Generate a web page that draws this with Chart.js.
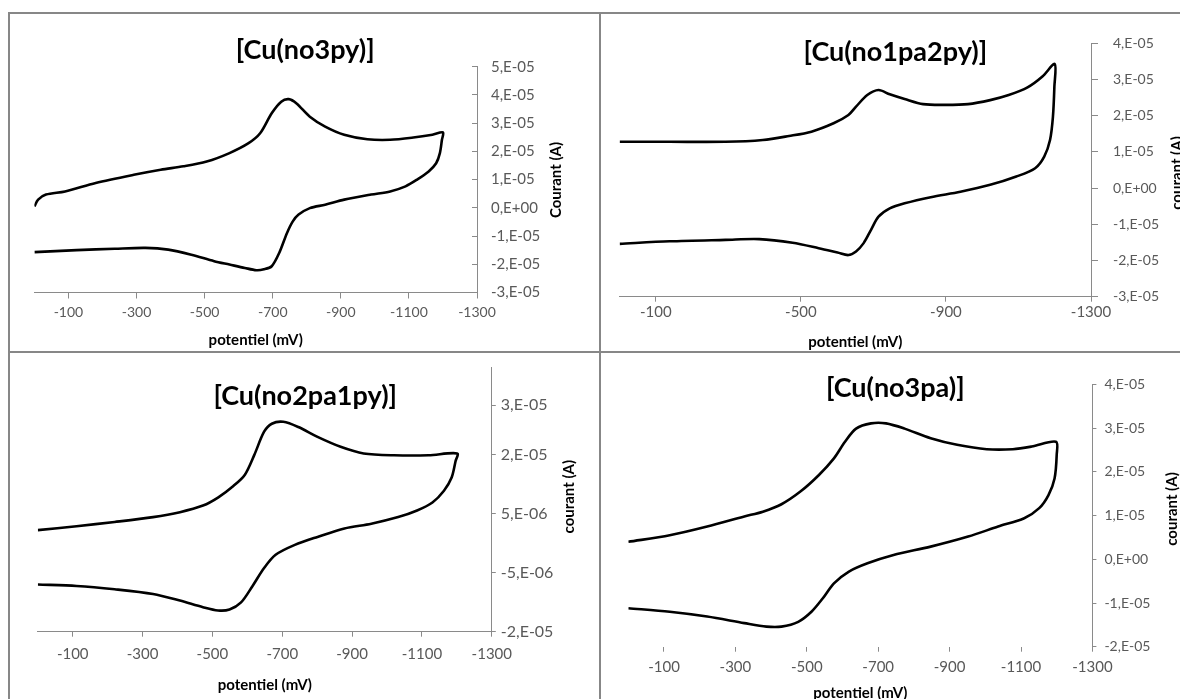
<!DOCTYPE html>
<html><head><meta charset="utf-8">
<script src="https://cdn.jsdelivr.net/npm/chart.js@4.4.1/dist/chart.umd.min.js"></script>
<style>
html,body{margin:0;padding:0;background:#fff;width:1180px;height:699px;overflow:hidden;}
.panel{position:absolute;}
.line{position:absolute;background:#878787;}
canvas{display:block;}
</style></head><body>
<div class="line" style="left:8px;top:12px;width:1172px;height:2px"></div>
<div class="line" style="left:8px;top:12px;width:2px;height:687px"></div>
<div class="line" style="left:599px;top:12px;width:2px;height:687px"></div>
<div class="line" style="left:8px;top:351px;width:1172px;height:2px"></div>
<div class="panel" style="left:10px;top:14px"><canvas id="c1" width="589" height="337"></canvas></div>
<div class="panel" style="left:601px;top:14px"><canvas id="c2" width="579" height="337"></canvas></div>
<div class="panel" style="left:10px;top:353px"><canvas id="c3" width="589" height="346"></canvas></div>
<div class="panel" style="left:601px;top:353px"><canvas id="c4" width="579" height="346"></canvas></div>
<script>
// ---- Titles ----
const titles = ["[Cu(no3py)]", "[Cu(no1pa2py)]", "[Cu(no2pa1py)]", "[Cu(no3pa)]"];
const xAxisTitle = "potentiel (mV)";
const yAxisTitles = ["Courant (A)", "courant (A)", "courant (A)", "courant (A)"];

// ---- Tick values / labels ----
const xTicksStep200 = [-1300, -1100, -900, -700, -500, -300, -100];
const xTicksStep400 = [-1300, -900, -500, -100];
const p1YTicks = [-3e-5, -2e-5, -1e-5, 0, 1e-5, 2e-5, 3e-5, 4e-5, 5e-5];
const p1YLabels = ["-3,E-05", "-2,E-05", "-1,E-05", "0,E+00", "1,E-05", "2,E-05", "3,E-05", "4,E-05", "5,E-05"];
const p2YTicks = [-3e-5, -2e-5, -1e-5, 0, 1e-5, 2e-5, 3e-5, 4e-5];
const p2YLabels = ["-3,E-05", "-2,E-05", "-1,E-05", "0,E+00", "1,E-05", "2,E-05", "3,E-05", "4,E-05"];
const p3YTicks = [-2e-5, -7.5e-6, 5e-6, 1.75e-5, 2.8e-5];
const p3YLabels = ["-2,E-05", "-5,E-06", "5,E-06", "2,E-05", "3,E-05"];
const p4YTicks = [-2e-5, -1e-5, 0, 1e-5, 2e-5, 3e-5, 4e-5];
const p4YLabels = ["-2,E-05", "-1,E-05", "0,E+00", "1,E-05", "2,E-05", "3,E-05", "4,E-05"];

// ---- Series: potential (mV) and current (A) ----
const p1Potential = [0,-11,-34,-90,-180,-292,-371,-438,-506,-573,-629,-663,-697,-725,-747,-770,-809,-854,-910,-978,-1045,-1113,-1169,-1200,-1197,-1191,-1180,-1158,-1124,-1090,-1045,-989,-910,-854,-809,-776,-759,-742,-719,-697,-674,-652,-618,-573,-528,-461,-393,-326,-236,-124,0];
const p1Current = [0.05e-5,0.29e-5,0.47e-5,0.58e-5,0.88e-5,1.17e-5,1.35e-5,1.47e-5,1.64e-5,1.94e-5,2.29e-5,2.64e-5,3.35e-5,3.76e-5,3.85e-5,3.70e-5,3.23e-5,2.88e-5,2.59e-5,2.43e-5,2.41e-5,2.49e-5,2.59e-5,2.67e-5,2.41e-5,1.94e-5,1.58e-5,1.29e-5,1.00e-5,0.76e-5,0.58e-5,0.47e-5,0.29e-5,0.11e-5,-0.01e-5,-0.24e-5,-0.48e-5,-0.89e-5,-1.60e-5,-2.07e-5,-2.18e-5,-2.21e-5,-2.13e-5,-2.01e-5,-1.89e-5,-1.66e-5,-1.48e-5,-1.42e-5,-1.45e-5,-1.50e-5,-1.57e-5];

const p2Potential = [0,-138,-292,-395,-467,-529,-590,-631,-652,-683,-714,-745,-786,-837,-899,-961,-1022,-1073,-1125,-1166,-1200,-1199,-1195,-1187,-1171,-1146,-1094,-1022,-940,-858,-786,-745,-714,-693,-673,-652,-631,-601,-549,-477,-385,-292,-138,0];
const p2Current = [1.28e-5,1.28e-5,1.28e-5,1.33e-5,1.44e-5,1.56e-5,1.79e-5,2.02e-5,2.25e-5,2.57e-5,2.71e-5,2.59e-5,2.46e-5,2.32e-5,2.30e-5,2.32e-5,2.43e-5,2.57e-5,2.78e-5,3.08e-5,3.43e-5,2.80e-5,1.97e-5,1.33e-5,0.87e-5,0.55e-5,0.32e-5,0.09e-5,-0.10e-5,-0.25e-5,-0.42e-5,-0.56e-5,-0.79e-5,-1.16e-5,-1.52e-5,-1.75e-5,-1.85e-5,-1.78e-5,-1.66e-5,-1.51e-5,-1.41e-5,-1.43e-5,-1.47e-5,-1.54e-5];

const p3Potential = [0,-111,-220,-330,-407,-473,-517,-560,-593,-620,-648,-670,-703,-746,-801,-867,-933,-1020,-1119,-1201,-1196,-1185,-1163,-1130,-1086,-1032,-955,-878,-801,-736,-681,-648,-615,-582,-549,-516,-473,-407,-330,-220,-111,0];
const p3Current = [0.154e-5,0.237e-5,0.327e-5,0.43e-5,0.535e-5,0.675e-5,0.85e-5,1.09e-5,1.33e-5,1.75e-5,2.24e-5,2.41e-5,2.45e-5,2.34e-5,2.13e-5,1.92e-5,1.78e-5,1.74e-5,1.74e-5,1.78e-5,1.61e-5,1.27e-5,0.99e-5,0.74e-5,0.57e-5,0.43e-5,0.29e-5,0.19e-5,0.01e-5,-0.16e-5,-0.37e-5,-0.65e-5,-1.03e-5,-1.38e-5,-1.53e-5,-1.55e-5,-1.48e-5,-1.34e-5,-1.20e-5,-1.10e-5,-1.03e-5,-1.00e-5];

const p4Potential = [0,-116,-221,-325,-377,-429,-482,-534,-576,-607,-638,-680,-722,-774,-847,-921,-1004,-1077,-1130,-1198,-1200,-1194,-1177,-1151,-1109,-1036,-952,-847,-743,-670,-618,-576,-545,-513,-476,-429,-387,-325,-221,-116,0];
const p4Current = [0.40e-5,0.55e-5,0.75e-5,0.98e-5,1.09e-5,1.26e-5,1.55e-5,1.93e-5,2.31e-5,2.69e-5,2.99e-5,3.11e-5,3.11e-5,2.99e-5,2.77e-5,2.62e-5,2.52e-5,2.52e-5,2.58e-5,2.69e-5,2.39e-5,1.85e-5,1.47e-5,1.17e-5,0.94e-5,0.75e-5,0.52e-5,0.29e-5,0.10e-5,-0.09e-5,-0.28e-5,-0.55e-5,-0.89e-5,-1.20e-5,-1.43e-5,-1.54e-5,-1.54e-5,-1.46e-5,-1.31e-5,-1.20e-5,-1.12e-5];

const AXIS_GRAY = '#8a8a8a';
const LABEL_GRAY = '#595959';

const panelText = {
  id: 'panelText',
  afterDraw(chart, args, o) {
    const ctx = chart.ctx;
    ctx.save();
    ctx.fillStyle = '#000';
    ctx.textAlign = 'center';
    ctx.textBaseline = 'middle';
    ctx.font = 'bold 27px Lato';
    ctx.fillText(o.title, o.titleX, o.titleY);
    ctx.font = 'bold 15px Lato';
    const ca = chart.chartArea;
    ctx.fillText(o.xTitle, (ca.left + ca.right) / 2, ca.bottom + o.xTitleDy);
    ctx.translate(o.yTitleX, o.yTitleY);
    ctx.rotate(-Math.PI / 2);
    ctx.fillText(o.yTitle, 0, 0);
    ctx.restore();
  }
};

function makeChart(id, c) {
  return new Chart(document.getElementById(id), {
    type: 'scatter',
    data: { datasets: [{
      data: c.potential.map((p, i) => ({ x: p, y: c.current[i] })),
      showLine: true, borderColor: '#000', borderWidth: 2.6,
      pointRadius: 0, tension: 0.3, fill: false
    }]},
    options: {
      responsive: false, animation: false, devicePixelRatio: 1,
      layout: { padding: c.pad },
      plugins: {
        legend: { display: false }, tooltip: { enabled: false }, title: { display: false },
        panelText: c.text
      },
      scales: {
        x: {
          type: 'linear', position: 'bottom', min: -1300, max: 0, reverse: true,
          grid: { drawOnChartArea: false, drawTicks: true, tickLength: c.xTickLen, color: AXIS_GRAY, lineWidth: 1 },
          border: { display: c.xBorder, color: AXIS_GRAY, width: 1 },
          ticks: { autoSkip: false, maxRotation: 0, padding: c.xPad, color: LABEL_GRAY,
                   font: { family: 'Lato', size: c.xFont }, callback: v => String(v) },
          afterBuildTicks: s => { s.ticks = c.xTicks.map(v => ({ value: v })); },
          afterFit: s => { s.height = 30; }
        },
        y: {
          type: 'linear', position: 'right', min: c.yMin, max: c.yMax,
          grid: { drawOnChartArea: false, drawTicks: true, tickLength: c.yTickLen, color: AXIS_GRAY, lineWidth: 1 },
          border: { display: true, color: AXIS_GRAY, width: 1 },
          ticks: { autoSkip: false, padding: c.yPad, color: LABEL_GRAY,
                   font: { family: 'Lato', size: c.yFont }, callback: (v, i) => c.yLabels[i] },
          afterBuildTicks: s => { s.ticks = c.yTicks.map(v => ({ value: v })); },
          afterFit: s => { s.width = 80; }
        }
      }
    },
    plugins: [panelText]
  });
}

function draw() {
  makeChart('c1', {
    potential: p1Potential, current: p1Current,
    xTicks: xTicksStep200, yTicks: p1YTicks, yLabels: p1YLabels, yMin: -3e-5, yMax: 5e-5,
    pad: { left: 24.4, top: 52.7, right: 42, bottom: 28.5 },
    xTickLen: 6, xPad: 6, xBorder: true, xFont: 14,
    yTickLen: -5, yPad: 19, yFont: 15,
    text: { title: titles[0], titleX: 295.2, titleY: 36, xTitle: xAxisTitle, xTitleDy: 47.5,
            yTitle: yAxisTitles[0], yTitleX: 545.7, yTitleY: 166 }
  });
  makeChart('c2', {
    potential: p2Potential, current: p2Current,
    xTicks: xTicksStep400, yTicks: p2YTicks, yLabels: p2YLabels, yMin: -3e-5, yMax: 4e-5,
    pad: { left: 18.6, top: 29.3, right: 9, bottom: 24.3 },
    xTickLen: 5, xPad: 1, xBorder: true, xFont: 15,
    yTickLen: 7, yPad: 15, yFont: 14,
    text: { title: titles[1], titleX: 294.4, titleY: 38.5, xTitle: xAxisTitle, xTitleDy: 45,
            yTitle: yAxisTitles[1], yTitleX: 576, yTitleY: 159 }
  });
  makeChart('c3', {
    potential: p3Potential, current: p3Current,
    xTicks: xTicksStep200, yTicks: p3YTicks, yLabels: p3YLabels, yMin: -2e-5, yMax: 3.6e-5,
    pad: { left: 27.8, top: 10, right: 27.2, bottom: 37.3 },
    xTickLen: 5, xPad: 8, xBorder: true, xFont: 15,
    yTickLen: 4, yPad: 5, yFont: 16,
    text: { title: titles[2], titleX: 295.2, titleY: 43.7, xTitle: xAxisTitle, xTitleDy: 53,
            yTitle: yAxisTitles[2], yTitleX: 559, yTitleY: 143.7 }
  });
  makeChart('c4', {
    potential: p4Potential, current: p4Current,
    xTicks: xTicksStep200, yTicks: p4YTicks, yLabels: p4YLabels, yMin: -2e-5, yMax: 4e-5,
    pad: { left: 27.3, top: 31.5, right: 7.6, bottom: 22.3 },
    xTickLen: 5, xPad: 6, xBorder: false, xFont: 15,
    yTickLen: 4, yPad: 8, yFont: 14,
    text: { title: titles[3], titleX: 294.3, titleY: 35.3, xTitle: xAxisTitle, xTitleDy: 46.3,
            yTitle: yAxisTitles[3], yTitleX: 571.6, yTitleY: 156 }
  });
}

Chart.defaults.font.family = 'Lato';
if (document.fonts && document.fonts.load) {
  Promise.all([document.fonts.load('bold 27px Lato'), document.fonts.load('15px Lato')])
    .then(draw, draw);
} else { draw(); }
</script>
</body></html>
